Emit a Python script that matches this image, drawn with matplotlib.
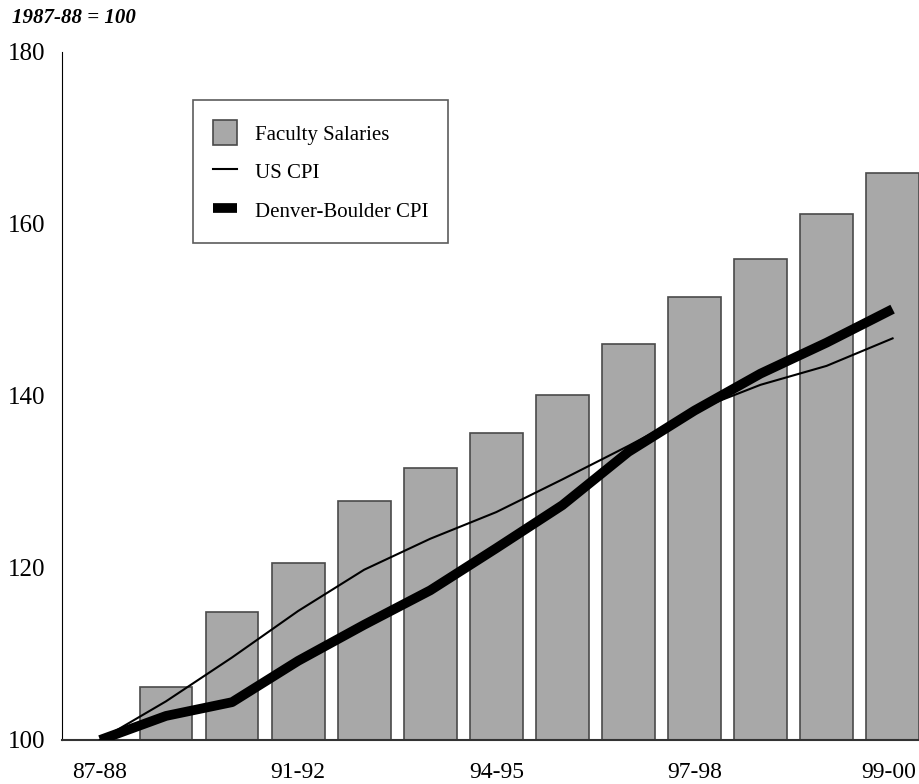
import numpy as np
import matplotlib.pyplot as plt
from matplotlib.patches import Patch
from matplotlib.lines import Line2D
from matplotlib.transforms import ScaledTranslation

plt.rcParams['font.family'] = ['Liberation Serif', 'DejaVu Serif']

years = ['87-88', '88-89', '89-90', '90-91', '91-92', '92-93', '93-94',
         '94-95', '95-96', '96-97', '97-98', '98-99', '99-00']
salaries = np.array([100, 106.2, 114.9, 120.6, 127.8, 131.6, 135.7,
                     140.1, 146.0, 151.5, 155.9, 161.2, 165.9])
us_cpi = np.array([100, 104.5, 109.6, 115.0, 119.8, 123.4, 126.5,
                   130.3, 134.2, 138.3, 141.3, 143.5, 146.7])
denver_cpi = np.array([100, 102.8, 104.4, 109.2, 113.4, 117.4, 122.3,
                       127.3, 133.5, 138.3, 142.6, 146.2, 150.1])
tick_pos = [0, 3, 6, 9, 12]
tick_text = ['87-88', '91-92', '94-95', '97-98', '99-00']

fig = plt.figure(figsize=(9.19, 7.84), dpi=100)
ax = fig.add_axes([62/919, 44/784, 857/919, 688/784])

x = np.arange(len(years))
ax.bar(x, salaries - 100, bottom=100, width=0.8, color='#a8a8a8',
       edgecolor='#4a4a4a', linewidth=1.2, zorder=2)
ax.plot(x, us_cpi, color='black', lw=1.5, zorder=3)
ax.plot(x, denver_cpi, color='black', lw=7, solid_capstyle='butt', zorder=4)

ax.set_xlim(-0.575, 12.4)
ax.set_ylim(100, 180)
ax.set_yticks([100, 120, 140, 160, 180])
ax.set_xticks(tick_pos)
ax.set_xticklabels(tick_text)
ax.tick_params(axis='both', length=0)
ax.tick_params(axis='y', pad=12, labelsize=18)
ax.tick_params(axis='x', pad=16, labelsize=17)
# last label sits right at the figure edge
last = ax.get_xticklabels()[-1]
last.set_transform(last.get_transform() + ScaledTranslation(-4/100, 0, fig.dpi_scale_trans))
for s in ['top', 'right']:
    ax.spines[s].set_visible(False)
ax.spines['left'].set_color('black')
ax.spines['bottom'].set_color('#333333')
ax.spines['bottom'].set_linewidth(1.5)

handles = [Patch(facecolor='#a8a8a8', edgecolor='#4a4a4a', linewidth=1.2),
           Line2D([], [], color='black', lw=1.5),
           Line2D([], [], color='black', lw=7, solid_capstyle='butt')]
leg = ax.legend(handles, ['Faculty Salaries', 'US CPI', 'Denver-Boulder CPI'],
                loc='upper left', bbox_to_anchor=(0.153, 0.930),
                borderaxespad=0, fancybox=False, fontsize=15,
                labelspacing=0.65, handlelength=1.15, handleheight=1.5,
                handletextpad=0.85, borderpad=0.95)
leg.get_frame().set_edgecolor('#333333')
leg.get_frame().set_linewidth(1.2)

fig.text(12/919, 1 - 18/784, '1987-88 = 100', fontsize=15, style='italic',
         weight='bold', va='center', ha='left')

fig.savefig('out.png', dpi=100)
